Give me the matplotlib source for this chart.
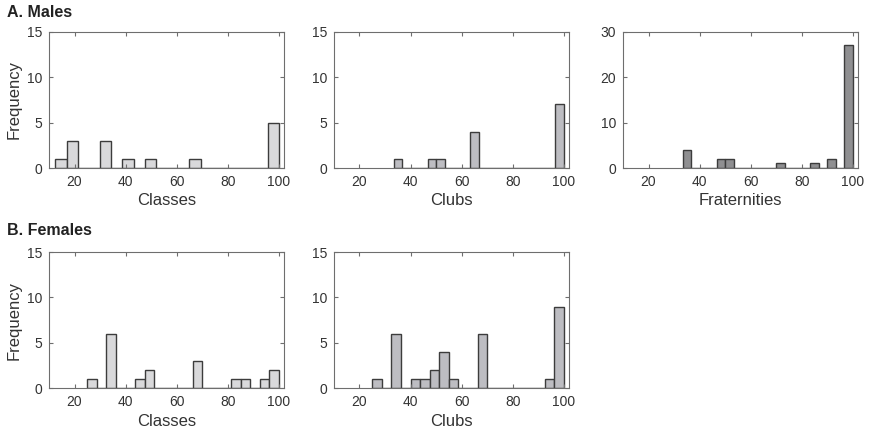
import numpy as np
import matplotlib.pyplot as plt

plt.rcParams['font.family'] = ['Liberation Sans', 'DejaVu Sans']

# histogram bins (20 bins each, MATLAB style)
males_classes_edges = np.linspace(12.5, 100, 21)
clubs_edges = np.linspace(100 / 3, 100, 21)
females_edges = np.linspace(25, 100, 21)

males_classes = [1, 3, 0, 0, 3, 0, 1, 0, 1, 0, 0, 0, 1, 0, 0, 0, 0, 0, 0, 5]
males_clubs = [1, 0, 0, 0, 1, 1, 0, 0, 0, 4, 0, 0, 0, 0, 0, 0, 0, 0, 0, 7]
males_frats = [4, 0, 0, 0, 2, 2, 0, 0, 0, 0, 0, 1, 0, 0, 0, 1, 0, 2, 0, 27]
females_classes = [1, 0, 6, 0, 0, 1, 2, 0, 0, 0, 0, 3, 0, 0, 0, 1, 1, 0, 1, 2]
females_clubs = [1, 0, 6, 0, 1, 1, 2, 4, 1, 0, 0, 6, 0, 0, 0, 0, 0, 0, 1, 9]

x_ticks = [20, 40, 60, 80, 100]

C_CLASS = '#d9d9db'
C_CLUB = '#bdbdc2'
C_FRAT = '#8f8f91'
EDGE = '#3c3c3c'
AX = '#6e6e6e'
TXT = '#333333'


def panel(fig, rect, edges, counts, color, xlabel, ymax, yticks, ylabel=None):
    ax = fig.add_axes(rect)
    ax.hist(edges[:-1], bins=edges, weights=counts, color=color,
            edgecolor=EDGE, linewidth=1.0)
    ax.set_xlim(10, 102)
    ax.set_ylim(0, ymax)
    ax.set_xticks(x_ticks)
    ax.set_yticks(yticks)
    ax.tick_params(direction='in', top=True, right=True, length=3,
                   color=AX, labelcolor=TXT, labelsize=10, pad=5)
    for s in ax.spines.values():
        s.set_color(AX)
        s.set_linewidth(0.8)
    ax.set_xlabel(xlabel, fontsize=12, color=TXT, labelpad=3)
    if ylabel:
        ax.set_ylabel(ylabel, fontsize=12, color=TXT, labelpad=4)
    return ax


fig = plt.figure(figsize=(8.69, 4.33), dpi=100)

cols = [0.0564, 0.3843, 0.7169]
w = 0.2704
row1, row2, h = 0.612, 0.103, 0.315

panel(fig, [cols[0], row1, w, h], males_classes_edges, males_classes, C_CLASS,
      'Classes', 15, [0, 5, 10, 15], 'Frequency')
panel(fig, [cols[1], row1, w, h], clubs_edges, males_clubs, C_CLUB,
      'Clubs', 15, [0, 5, 10, 15])
panel(fig, [cols[2], row1, w, h], clubs_edges, males_frats, C_FRAT,
      'Fraternities', 30, [0, 10, 20, 30])
panel(fig, [cols[0], row2, w, h], females_edges, females_classes, C_CLASS,
      'Classes', 15, [0, 5, 10, 15], 'Frequency')
panel(fig, [cols[1], row2, w, h], females_edges, females_clubs, C_CLUB,
      'Clubs', 15, [0, 5, 10, 15])

fig.text(0.008, 0.972, 'A. Males', fontsize=11.5, fontweight='bold',
         color='#222222', va='center')
fig.text(0.008, 0.468, 'B. Females', fontsize=11.5, fontweight='bold',
         color='#222222', va='center')

fig.savefig('out.png', dpi=100)
